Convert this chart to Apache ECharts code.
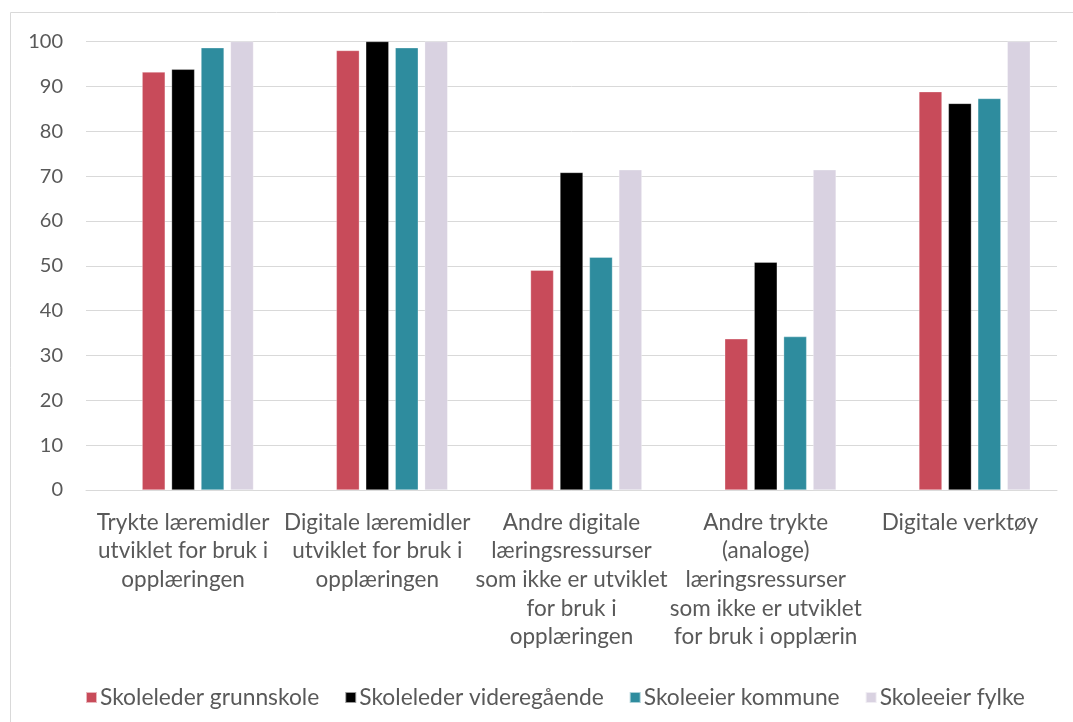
<!DOCTYPE html>
<html>
<head>
<meta charset="utf-8">
<script src="https://cdn.jsdelivr.net/npm/echarts@6/dist/echarts.min.js"></script>
<style>html,body{margin:0;padding:0;background:#fff}#c{width:1073px;height:722px}</style>
</head>
<body>
<div id="c"></div>
<script>
const categories = [
  "Trykte læremidler\nutviklet for bruk i\nopplæringen",
  "Digitale læremidler\nutviklet for bruk i\nopplæringen",
  "Andre digitale\nlæringsressurser\nsom ikke er utviklet\nfor bruk i\nopplæringen",
  "Andre trykte\n(analoge)\nlæringsressurser\nsom ikke er utviklet\nfor bruk i opplærin",
  "Digitale verktøy"
];
const seriesNames = ["Skoleleder grunnskole", "Skoleleder videregående", "Skoleeier kommune", "Skoleeier fylke"];
const grunnskole = [93.2, 98.0, 49.0, 33.7, 88.8];
const videregaende = [93.8, 100, 70.8, 50.8, 86.2];
const kommune = [98.6, 98.6, 51.9, 34.2, 87.3];
const fylke = [100, 100, 71.4, 71.4, 100];
const emptySeries = [null, null, null, null, null];
const yTicks = {min: 0, max: 100, interval: 10};

const colors = ["#C84B5A", "#000000", "#2E8C9E", "#D9D2E1"];
const font = "Lato, 'Open Sans', sans-serif";
const chart = echarts.init(document.getElementById('c'));
const valueSets = [grunnskole, videregaende, kommune, fylke];
const series = [{
  name: '_', type: 'bar', data: emptySeries, barWidth: 23, barGap: '28%', silent: true
}].concat(seriesNames.map((n, i) => ({
  name: n, type: 'bar', data: valueSets[i], barWidth: 23, barGap: '28%',
  itemStyle: {color: colors[i], borderColor: 'rgba(255,255,255,0.6)', borderWidth: 0.5}
})));
chart.setOption({
  animation: false,
  color: ['#fff'].concat(colors),
  graphic: [{type: 'rect', shape: {x: 10.5, y: 12.5, width: 1200, height: 900},
    style: {fill: 'none', stroke: '#d9d9d9', lineWidth: 1}, silent: true}],
  grid: {left: 86, right: 16, top: 41.5, bottom: 232, containLabel: false},
  legend: {
    data: seriesNames, top: 681, left: 80, itemWidth: 11, itemHeight: 11, itemGap: 25,
    icon: 'rect',
    textStyle: {fontFamily: font, fontSize: 22.8, color: '#595959', padding: [0, 0, 0, -2]}
  },
  xAxis: {
    type: 'category', data: categories,
    axisLine: {lineStyle: {color: '#d9d9d9', width: 1}},
    axisTick: {show: false},
    axisLabel: {interval: 0, fontFamily: font, fontSize: 22.5, color: '#595959', lineHeight: 28.7, margin: 18}
  },
  yAxis: {
    type: 'value', min: yTicks.min, max: yTicks.max, interval: yTicks.interval,
    axisLine: {show: false}, axisTick: {show: false},
    splitLine: {lineStyle: {color: '#d9d9d9', width: 1}},
    axisLabel: {fontFamily: font, fontSize: 20, color: '#595959', margin: 23}
  },
  series: series
});
</script>
</body>
</html>
